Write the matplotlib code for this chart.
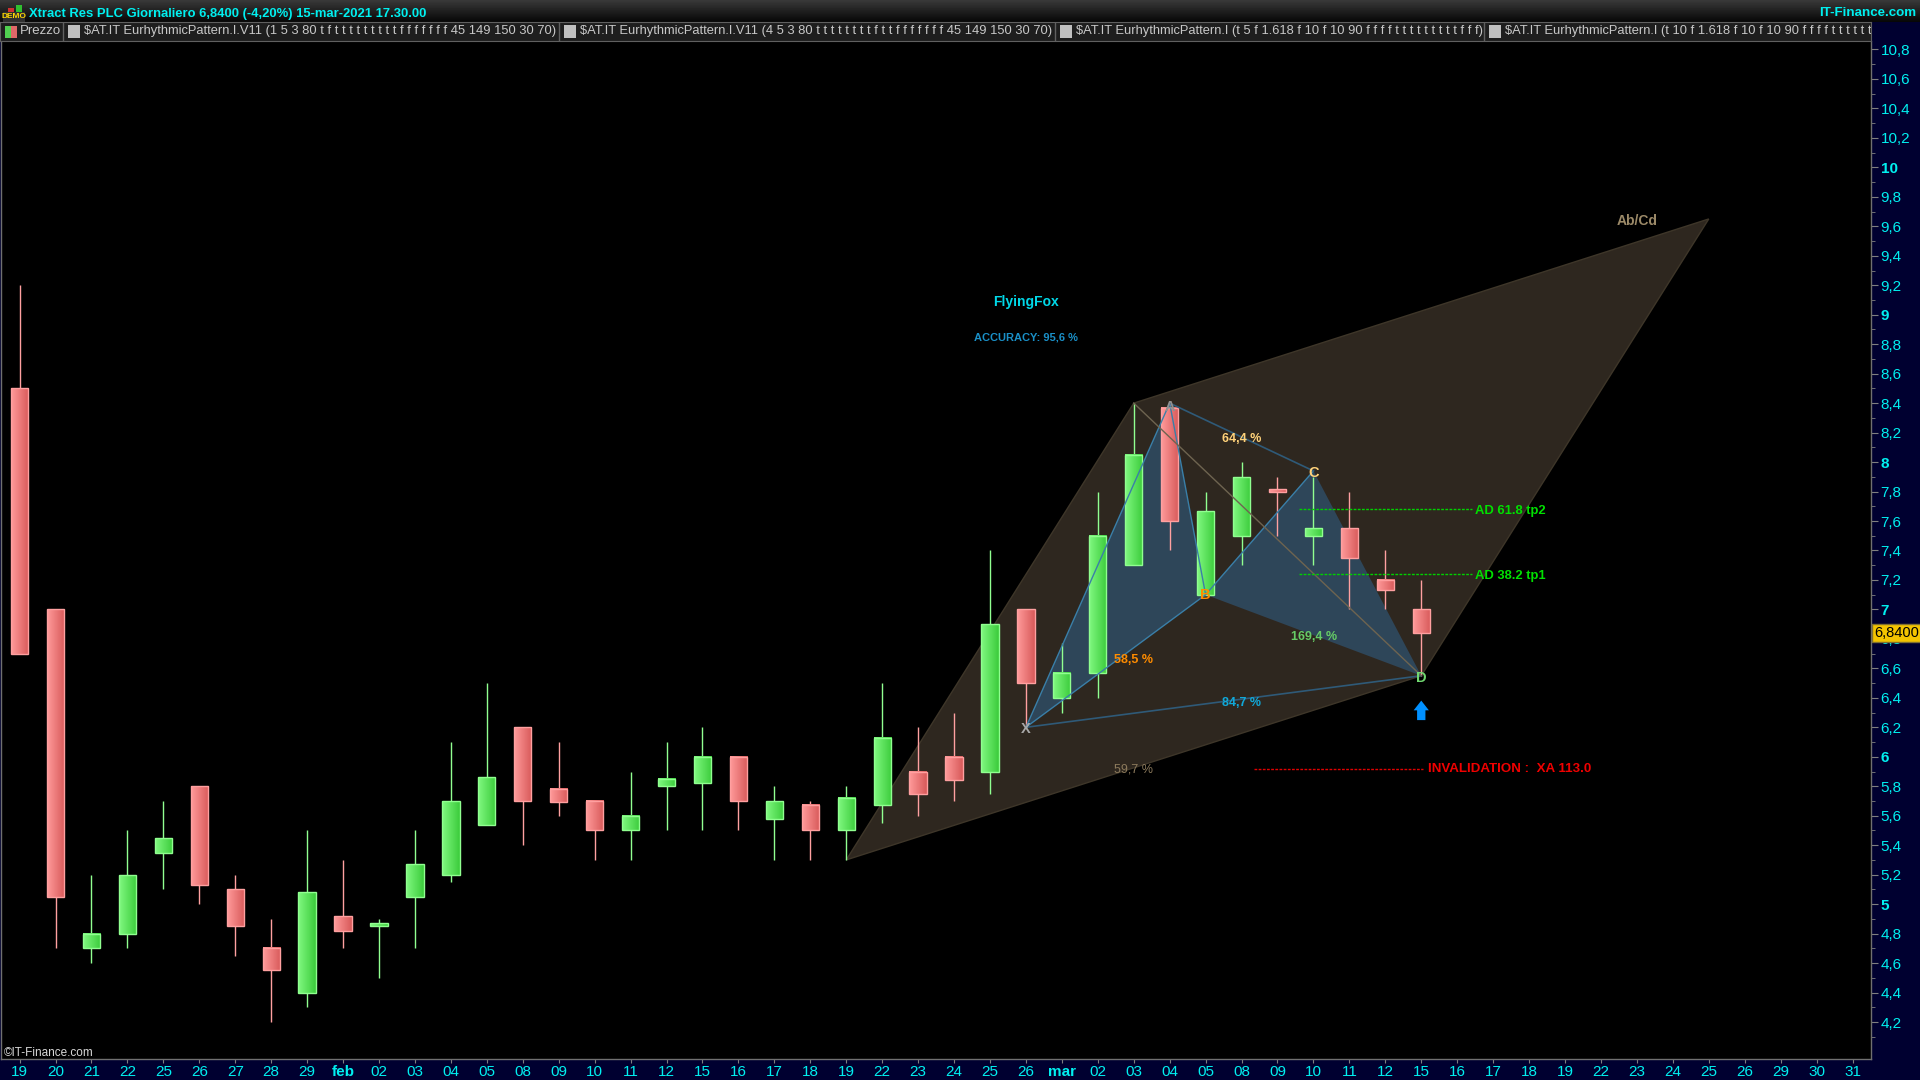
import numpy as np
import matplotlib
matplotlib.use('Agg')
import matplotlib.pyplot as plt
from matplotlib import font_manager
from matplotlib.patches import Polygon, Rectangle

# narrow face if it is there, otherwise plain Liberation Sans
names = {f.name for f in font_manager.fontManager.ttflist}
has_narrow = 'Liberation Sans Narrow' in names
plt.rcParams['font.family'] = ['Liberation Sans Narrow' if has_narrow else 'Liberation Sans', 'DejaVu Sans']
fs = 1.2 if has_narrow else 1.0

# data
date_labels = ['19','20','21','22','25','26','27','28','29','feb','02','03','04','05','08','09','10','11','12','15',
               '16','17','18','19','22','23','24','25','26','mar','02','03','04','05','08','09','10','11','12','15',
               '16','17','18','19','22','23','24','25','26','29','30','31']
opens  = [8.5,7.0,4.7,4.8,5.35,5.8,5.1,4.7,4.4,4.92,4.85,5.05,5.2,5.54,6.2,5.78,5.7,5.5,5.8,5.82,
          6.0,5.58,5.67,5.5,5.67,5.9,6.0,5.9,7.0,6.4,6.57,7.3,8.37,7.1,7.5,7.82,7.5,7.55,7.2,7.0]
highs  = [9.2,7.0,5.2,5.5,5.7,5.8,5.2,4.9,5.5,5.3,4.9,5.5,6.1,6.5,6.2,6.1,5.7,5.9,6.1,6.2,
          6.0,5.8,5.7,5.8,6.5,6.2,6.3,7.4,7.0,6.77,7.8,8.4,8.4,7.8,8.0,7.9,7.9,7.8,7.4,7.2]
lows   = [6.7,4.7,4.6,4.7,5.1,5.0,4.65,4.2,4.3,4.7,4.5,4.7,5.15,5.54,5.4,5.6,5.3,5.3,5.5,5.5,
          5.5,5.3,5.3,5.3,5.55,5.6,5.7,5.75,6.2,6.3,6.4,7.3,7.4,7.1,7.3,7.5,7.3,7.0,7.0,6.55]
closes = [6.7,5.05,4.8,5.2,5.45,5.13,4.85,4.55,5.08,4.82,4.87,5.27,5.7,5.86,5.7,5.69,5.5,5.6,5.85,6.0,
          5.7,5.7,5.5,5.72,6.13,5.75,5.84,6.9,6.5,6.57,7.5,8.05,7.6,7.67,7.9,7.8,7.55,7.35,7.13,6.84]

price_ticks = [round(4.2 + 0.2 * i, 1) for i in range(34)]
minor_ticks = [round(4.1 + 0.2 * i, 1) for i in range(34)]
last_price = 6.84

# harmonic pattern points (bar index, price)
x_pt = (28, 6.2)
a_pt = (32, 8.4)
b_pt = (33, 7.1)
c_pt = (36, 7.94)
d_pt = (39, 6.55)
abcd_start = (23, 5.3)
abcd_a = (31, 8.4)
abcd_end = (47, 9.65)

W, H = 1920, 1080
CYAN = '#00f0f0'
RED_BODY = ('#ff9a9a', '#d85a5a')
GREEN_BODY = ('#80f880', '#3ccc3c')

fig = plt.figure(figsize=(19.2, 10.8), dpi=100, facecolor='#000030')

# main panel in pixels: x 1..1871, y 41..1059
ax = fig.add_axes([1/W, (H-1059)/H, 1870/W, (1059-41)/H], facecolor='black')

ax.add_patch(Polygon([abcd_start, abcd_a, abcd_end, d_pt], closed=True, fc='#2e271f', ec='#3e3629', lw=1, zorder=1))
ax.add_patch(Polygon([x_pt, a_pt, b_pt], closed=True, fc='#2e4659', ec='none', zorder=2))
ax.add_patch(Polygon([b_pt, c_pt, d_pt], closed=True, fc='#2e4659', ec='none', zorder=2))

for i in range(len(opens)):
    up = closes[i] >= opens[i]
    lo_b, hi_b = sorted([opens[i], closes[i]])
    edge = '#90ff90' if up else '#ffa0a0'
    ax.plot([i, i], [lows[i], highs[i]], color=edge, lw=1, zorder=3, solid_capstyle='butt')
    cols = GREEN_BODY if up else RED_BODY
    grad = np.linspace(0, 1, 32).reshape(1, -1)
    cmap = matplotlib.colors.LinearSegmentedColormap.from_list('b', cols)
    ax.imshow(grad, cmap=cmap, extent=(i-0.24, i+0.24, lo_b, hi_b), aspect='auto', zorder=4)
    ax.add_patch(Rectangle((i-0.24, lo_b), 0.48, hi_b-lo_b, fc='none', ec=edge, lw=1, zorder=5))

# pattern outlines go over the candles
blue_line = '#3a7fa8'
for p, q in [(x_pt, a_pt), (a_pt, b_pt), (b_pt, x_pt), (c_pt, b_pt)]:
    ax.plot([p[0], q[0]], [p[1], q[1]], color=blue_line, lw=1, zorder=6)
for p, q in [(a_pt, c_pt), (x_pt, d_pt)]:
    ax.plot([p[0], q[0]], [p[1], q[1]], color='#2f5a78', lw=1.2, zorder=6)
ax.plot([abcd_a[0], d_pt[0]], [abcd_a[1], d_pt[1]], color='#6e6450', lw=1, zorder=6)

# target lines
ax.plot([35.6, 40.4], [7.68, 7.68], color='#00d000', lw=1, ls=(0, (2, 1)), zorder=6)
ax.plot([35.6, 40.4], [7.24, 7.24], color='#00d000', lw=1, ls=(0, (2, 1)), zorder=6)
ax.plot([34.35, 39.05], [5.92, 5.92], color='#e00000', lw=1, ls=(0, (2, 1)), zorder=6)

def label(x, y, s, color, size=9.5, weight='bold', ha='center'):
    ax.text(x, y-0.014, s, color=color, fontsize=size*fs, fontweight=weight, ha=ha, va='center', zorder=8)

label(40.5, 7.68, 'AD 61.8 tp2', '#00e000', 9.4, ha='left')
label(40.5, 7.24, 'AD 38.2 tp1', '#00e000', 9.4, ha='left')
label(39.2, 5.93, 'INVALIDATION :  XA 113.0', '#f00000', 9.6, ha='left')
label(34, 8.17, '64,4 %', '#ffd27a', 9)
label(31, 6.67, '58,5 %', '#ff8c00', 9)
label(36.03, 6.83, '169,4 %', '#66cc66', 9)
label(34, 6.38, '84,7 %', '#10a8d8', 9)
label(31, 5.93, '59,7 %', '#8c7a5c', 9, weight='normal')
label(28, 6.2, 'X', '#a8a8a8', 10.5)
label(32, 8.39, 'A', '#909090', 10.5)
label(33, 7.11, 'B', '#ff8c00', 10.5)
label(36, 7.94, 'C', '#ffd27a', 10.5)
label(39, 6.55, 'D', '#70d870', 10.5)
label(28, 9.1, 'FlyingFox', '#00d8e8', 10)
label(28, 8.86, 'ACCURACY: 95,6 %', '#1a90c8', 8)
label(45, 9.65, 'Ab/Cd', '#9c8a68', 10)
ax.annotate('', xy=(39, 6.4), xytext=(39, 6.23),
            arrowprops=dict(arrowstyle='simple,head_width=1.1,head_length=0.7,tail_width=0.6',
                            color='#0090ff', lw=0), zorder=8)

ax.yaxis.tick_right()
ax.set_yticks(price_ticks)
ax.set_yticklabels([('%g' % p).replace('.', ',') for p in price_ticks])
ax.set_yticks(minor_ticks, minor=True)
ax.set_xticks(range(len(date_labels)))
ax.set_xticklabels(date_labels)
ax.tick_params(axis='y', which='major', length=5, color='#808080', labelcolor=CYAN, labelsize=11*fs, pad=2)
ax.tick_params(axis='y', which='minor', length=3, color='#808080')
ax.tick_params(axis='x', length=3, color='#808080', labelcolor=CYAN, labelsize=11*fs, pad=1.5)
for t, p in zip(ax.get_yticklabels(), price_ticks):
    if p == int(p):
        t.set_fontweight('bold')
for t in ax.get_xticklabels():
    if t.get_text() in ('feb', 'mar'):
        t.set_fontweight('bold')
ax.spines['top'].set_visible(False)
for side in ['left', 'right', 'bottom']:
    ax.spines[side].set_color('#707070')
    ax.spines[side].set_linewidth(1)

# axes: x_px = 19.6 + 35.94*i, y_px = 1022 - 147.35*(p-4.2)
ax.set_xlim((1-19.6)/35.94, (1871-19.6)/35.94)
ax.set_ylim(4.2-(1059-1022)/147.35, 4.2+(1022-41)/147.35)

ax.text(1873/1870, last_price, '6,8400', transform=ax.get_yaxis_transform(), color='black', fontsize=10.5*fs,
        ha='left', va='center', zorder=10, clip_on=False,
        bbox=dict(boxstyle='square,pad=0.15', fc='#f4c400', ec='#807030', lw=1))
ax.text(3/1870, 1-(1053-41)/1018, '©IT-Finance.com', transform=ax.transAxes, color='#d8d8d8', fontsize=8.5*fs, va='center')

# title bar
bar = fig.add_axes([0, (H-22)/H, 1, 22/H])
bar.imshow(np.linspace(0.22, 0.03, 22).reshape(-1, 1), cmap='gray', vmin=0, vmax=1, aspect='auto', extent=(0, W, 22, 0))
bar.set_xlim(0, W); bar.set_ylim(22, 0); bar.axis('off')
bar.text(29, 13.5, 'Xtract Res PLC Giornaliero 6,8400 (-4,20%) 15-mar-2021 17.30.00', color=CYAN, fontsize=9.4*fs, fontweight='bold', va='center')
bar.text(1916, 13.5, 'IT-Finance.com', color=CYAN, fontsize=9.6*fs, fontweight='bold', va='center', ha='right')
# small DEMO icon
bar.add_patch(Rectangle((3, 12), 22, 10, fc='#303030', ec='none'))
bar.text(14, 17, 'DEMO', color='#ffd800', fontsize=6, fontweight='bold', ha='center', va='center')
bar.add_patch(Rectangle((8, 8), 6, 4, fc='#d03030', ec='none'))
bar.add_patch(Rectangle((16, 5), 6, 7, fc='#30c030', ec='none'))

# legend row
leg = fig.add_axes([0, (H-41)/H, 1871/W, 19/H], facecolor='#1e1e1e')
leg.set_xlim(0, 1871); leg.set_ylim(41, 22)
leg.set_xticks([]); leg.set_yticks([])
for s in leg.spines.values():
    s.set_color('#606060')
for sep in [63, 559, 1055.5, 1484]:
    leg.axvline(sep, color='#606060', lw=1)
leg.add_patch(Rectangle((5, 26), 6, 12, fc='#50d050', ec='none'))
leg.add_patch(Rectangle((11, 26), 6, 12, fc='#e06868', ec='none'))
leg.text(20, 31, 'Prezzo', color='#c8c8c8', fontsize=9.5*fs, va='center', clip_on=True)
legend_x = [68, 564, 1060, 1489]
legend_txt = ['$AT.IT EurhythmicPattern.I.V11 (1 5 3 80 t f t t t t t t t t t f f f f f f f 45 149 150 30 70)',
              '$AT.IT EurhythmicPattern.I.V11 (4 5 3 80 t t t t t t t t f t t f f f f f f f 45 149 150 30 70)',
              '$AT.IT EurhythmicPattern.I (t 5 f 1.618 f 10 f 10 90 f f f f t t t t t t t t t f f f)',
              '$AT.IT EurhythmicPattern.I (t 10 f 1.618 f 10 f 10 90 f f f f t t t t t t t t t f f f)']
for lx, s in zip(legend_x, legend_txt):
    leg.add_patch(Rectangle((lx, 25), 12, 13, fc='#c0c0c0', ec='none'))
    leg.text(lx+16, 31, s, color='#c8c8c8', fontsize=9.3*fs, va='center', clip_on=True)

fig.savefig('out.png', dpi=100, facecolor=fig.get_facecolor())
